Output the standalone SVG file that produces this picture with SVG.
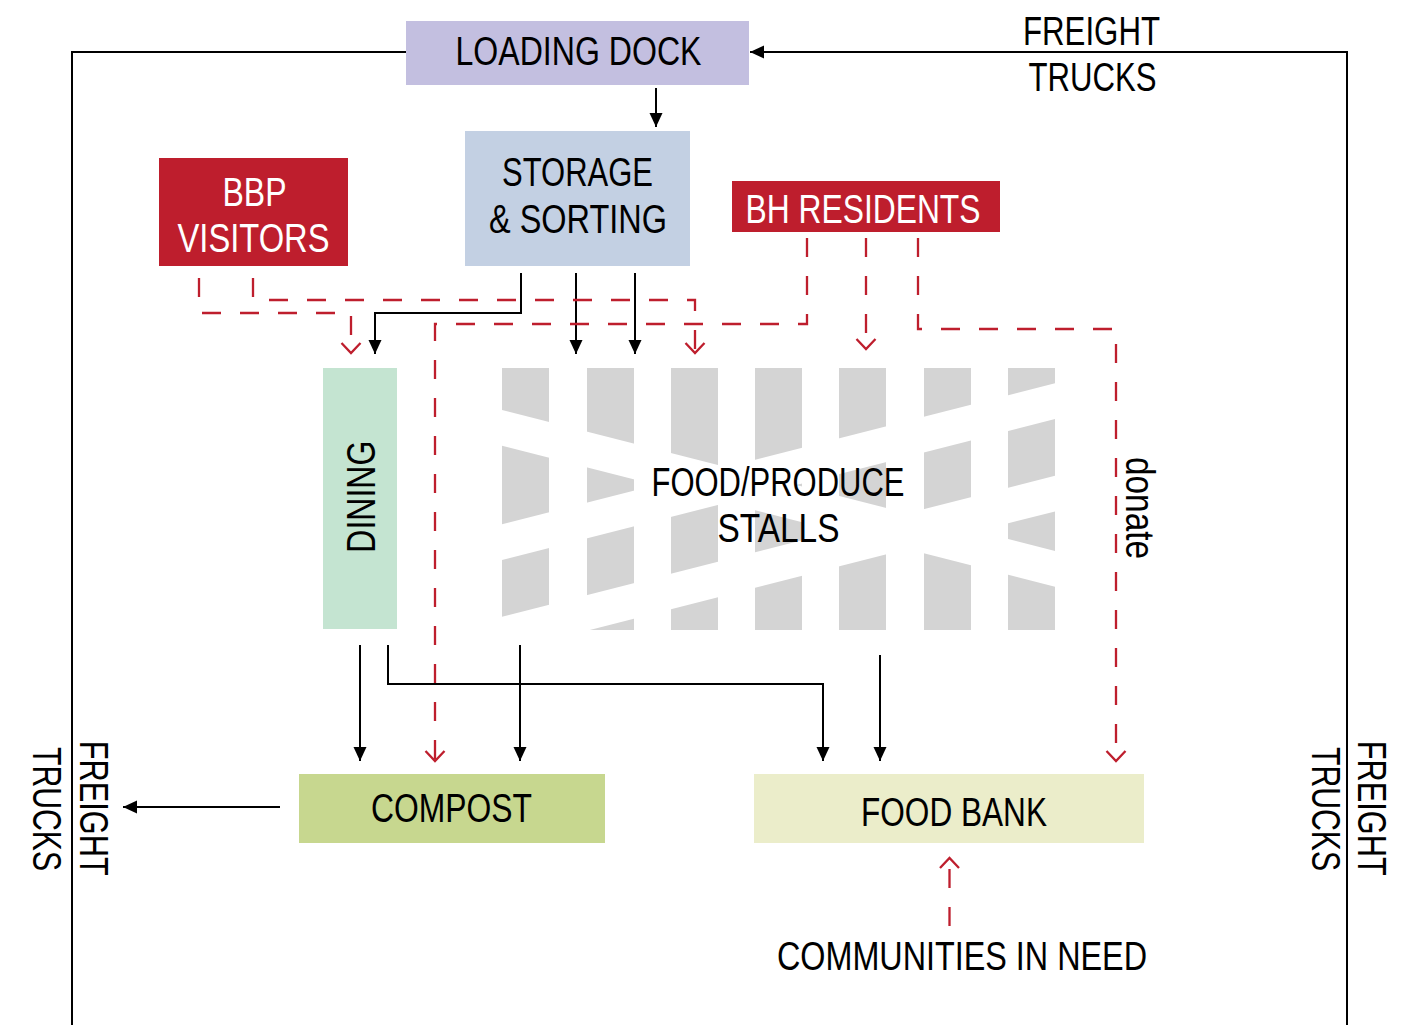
<svg xmlns="http://www.w3.org/2000/svg" width="1416" height="1025" viewBox="0 0 1416 1025">
  <style>
    .t { font-family: "Liberation Sans Narrow", "Liberation Sans", Arial, sans-serif; font-size: 40px; fill: #000; text-anchor: middle; }
    .w { fill: #fff; }
    .blk { fill: none; stroke: #000; stroke-width: 2; }
    .red { fill: none; stroke: #be1e2d; stroke-width: 2.3; stroke-dasharray: 19 19; }
  </style>
  <defs>
    <marker id="ah" markerUnits="userSpaceOnUse" markerWidth="16" markerHeight="14" refX="14" refY="7" orient="auto">
      <path d="M0,0.5 L14,7 L0,13.5 Z" fill="#000"/>
    </marker>
    <marker id="ch" markerUnits="userSpaceOnUse" markerWidth="14" markerHeight="22" refX="11" refY="11" orient="auto">
      <path d="M1,1.5 L11,11 L1,20.5" fill="none" stroke="#be1e2d" stroke-width="2.3"/>
    </marker>
    <clipPath id="stallclip">
      <rect x="502" y="368" width="553" height="262"/>
    </clipPath>
  </defs>
  <rect width="1416" height="1025" fill="#fff"/>

  <g id="connectors">
    <path class="blk" d="M406,52 H72 V1025"/>
    <path class="blk" d="M1347,1025 V52 H750" marker-end="url(#ah)"/>
    <path class="blk" d="M656,88 V127" marker-end="url(#ah)"/>
    <path class="blk" d="M521,273 V313 H375 V354" marker-end="url(#ah)"/>
    <path class="blk" d="M576,273 V354" marker-end="url(#ah)"/>
    <path class="blk" d="M635,273 V354" marker-end="url(#ah)"/>
    <path class="blk" d="M360,645 V761" marker-end="url(#ah)"/>
    <path class="blk" d="M388,645 V684 H823 V761" marker-end="url(#ah)"/>
    <path class="blk" d="M520,645 V761" marker-end="url(#ah)"/>
    <path class="blk" d="M880,655 V761" marker-end="url(#ah)"/>
    <path class="blk" d="M280,807 H123" marker-end="url(#ah)"/>

    <path class="red" d="M199,278 V313 H351 V353" marker-end="url(#ch)"/>
    <path class="red" d="M253,278 V300 H695 V353" marker-end="url(#ch)"/>
    <path class="red" d="M807,238 V324 H435 V761" marker-end="url(#ch)"/>
    <path class="red" d="M866,238 V349" marker-end="url(#ch)"/>
    <path class="red" d="M918,238 V329 H1116 V761" marker-end="url(#ch)"/>
    <path class="red" d="M949.5,926 V858" marker-end="url(#ch)"/>
  </g>

  <g id="loading-dock">
    <rect x="406" y="21" width="343" height="64" fill="#c3bfe0"/>
    <text class="t" x="578.5" y="65" font-size="41" textLength="246" lengthAdjust="spacingAndGlyphs">LOADING DOCK</text>
  </g>

  <g id="freight-trucks-top">
    <text class="t" x="1091.5" y="45" font-size="39" textLength="137" lengthAdjust="spacingAndGlyphs">FREIGHT</text>
    <text class="t" x="1092.5" y="91" font-size="39" textLength="128" lengthAdjust="spacingAndGlyphs">TRUCKS</text>
  </g>

  <g id="storage-sorting">
    <rect x="465" y="131" width="225" height="135" fill="#c3d0e3"/>
    <text class="t" x="577.5" y="186" textLength="151" lengthAdjust="spacingAndGlyphs">STORAGE</text>
    <text class="t" x="578" y="233" textLength="178" lengthAdjust="spacingAndGlyphs">&amp; SORTING</text>
  </g>

  <g id="bbp-visitors">
    <rect x="159" y="158" width="189" height="108" fill="#be1e2d"/>
    <text class="t w" x="254.5" y="206" textLength="64" lengthAdjust="spacingAndGlyphs">BBP</text>
    <text class="t w" x="253.5" y="252" textLength="152" lengthAdjust="spacingAndGlyphs">VISITORS</text>
  </g>

  <g id="bh-residents">
    <rect x="732" y="181" width="268" height="51" fill="#be1e2d"/>
    <text class="t w" x="863" y="222.5" textLength="235" lengthAdjust="spacingAndGlyphs">BH RESIDENTS</text>
  </g>

  <g id="dining">
    <rect x="323" y="368" width="74" height="261" fill="#c4e4d1"/>
    <text class="t" transform="translate(375,496.7) rotate(-90)" x="0" y="0" font-size="41" textLength="112" lengthAdjust="spacingAndGlyphs">DINING</text>
  </g>

  <g id="food-produce-stalls">
    <g clip-path="url(#stallclip)">
      <g fill="#d4d4d4">
        <rect x="502" y="368" width="47" height="262"/>
        <rect x="587" y="368" width="47" height="262"/>
        <rect x="671" y="368" width="47" height="262"/>
        <rect x="755" y="368" width="47" height="262"/>
        <rect x="839" y="368" width="47" height="262"/>
        <rect x="924" y="368" width="47" height="262"/>
        <rect x="1008" y="368" width="47" height="262"/>
      </g>
      <g fill="#fff">
        <polygon points="500,524.8 1057,382.8 1057,418.5 500,560.5"/>
        <polygon points="500,617.2 1057,475.2 1057,510.9 500,652.9"/>
        <polygon points="500,409.5 1057,551.5 1057,587.2 500,445.2"/>
      </g>
    </g>
    <text class="t" x="778" y="496" textLength="253" lengthAdjust="spacingAndGlyphs">FOOD/PRODUCE</text>
    <text class="t" x="778.5" y="542" textLength="122" lengthAdjust="spacingAndGlyphs">STALLS</text>
  </g>

  <g id="donate-label">
    <text class="t" transform="translate(1126,508) rotate(90)" x="0" y="0" textLength="102" lengthAdjust="spacingAndGlyphs">donate</text>
  </g>

  <g id="compost">
    <rect x="299" y="774" width="306" height="69" fill="#c7d78f"/>
    <text class="t" x="451.5" y="822" textLength="161" lengthAdjust="spacingAndGlyphs">COMPOST</text>
  </g>

  <g id="food-bank">
    <rect x="754" y="774" width="390" height="69" fill="#ebedca"/>
    <text class="t" x="954" y="826" textLength="186" lengthAdjust="spacingAndGlyphs">FOOD BANK</text>
  </g>

  <g id="communities-in-need">
    <text class="t" x="962" y="969.5" textLength="370" lengthAdjust="spacingAndGlyphs">COMMUNITIES IN NEED</text>
  </g>

  <g id="freight-trucks-left">
    <text class="t" transform="translate(80,808.3) rotate(90)" x="0" y="0" font-size="41" textLength="135" lengthAdjust="spacingAndGlyphs">FREIGHT</text>
    <text class="t" transform="translate(33,809) rotate(90)" x="0" y="0" font-size="41" textLength="124" lengthAdjust="spacingAndGlyphs">TRUCKS</text>
  </g>

  <g id="freight-trucks-right">
    <text class="t" transform="translate(1358,808.3) rotate(90)" x="0" y="0" font-size="41" textLength="135" lengthAdjust="spacingAndGlyphs">FREIGHT</text>
    <text class="t" transform="translate(1311.7,809) rotate(90)" x="0" y="0" font-size="41" textLength="124" lengthAdjust="spacingAndGlyphs">TRUCKS</text>
  </g>
</svg>
